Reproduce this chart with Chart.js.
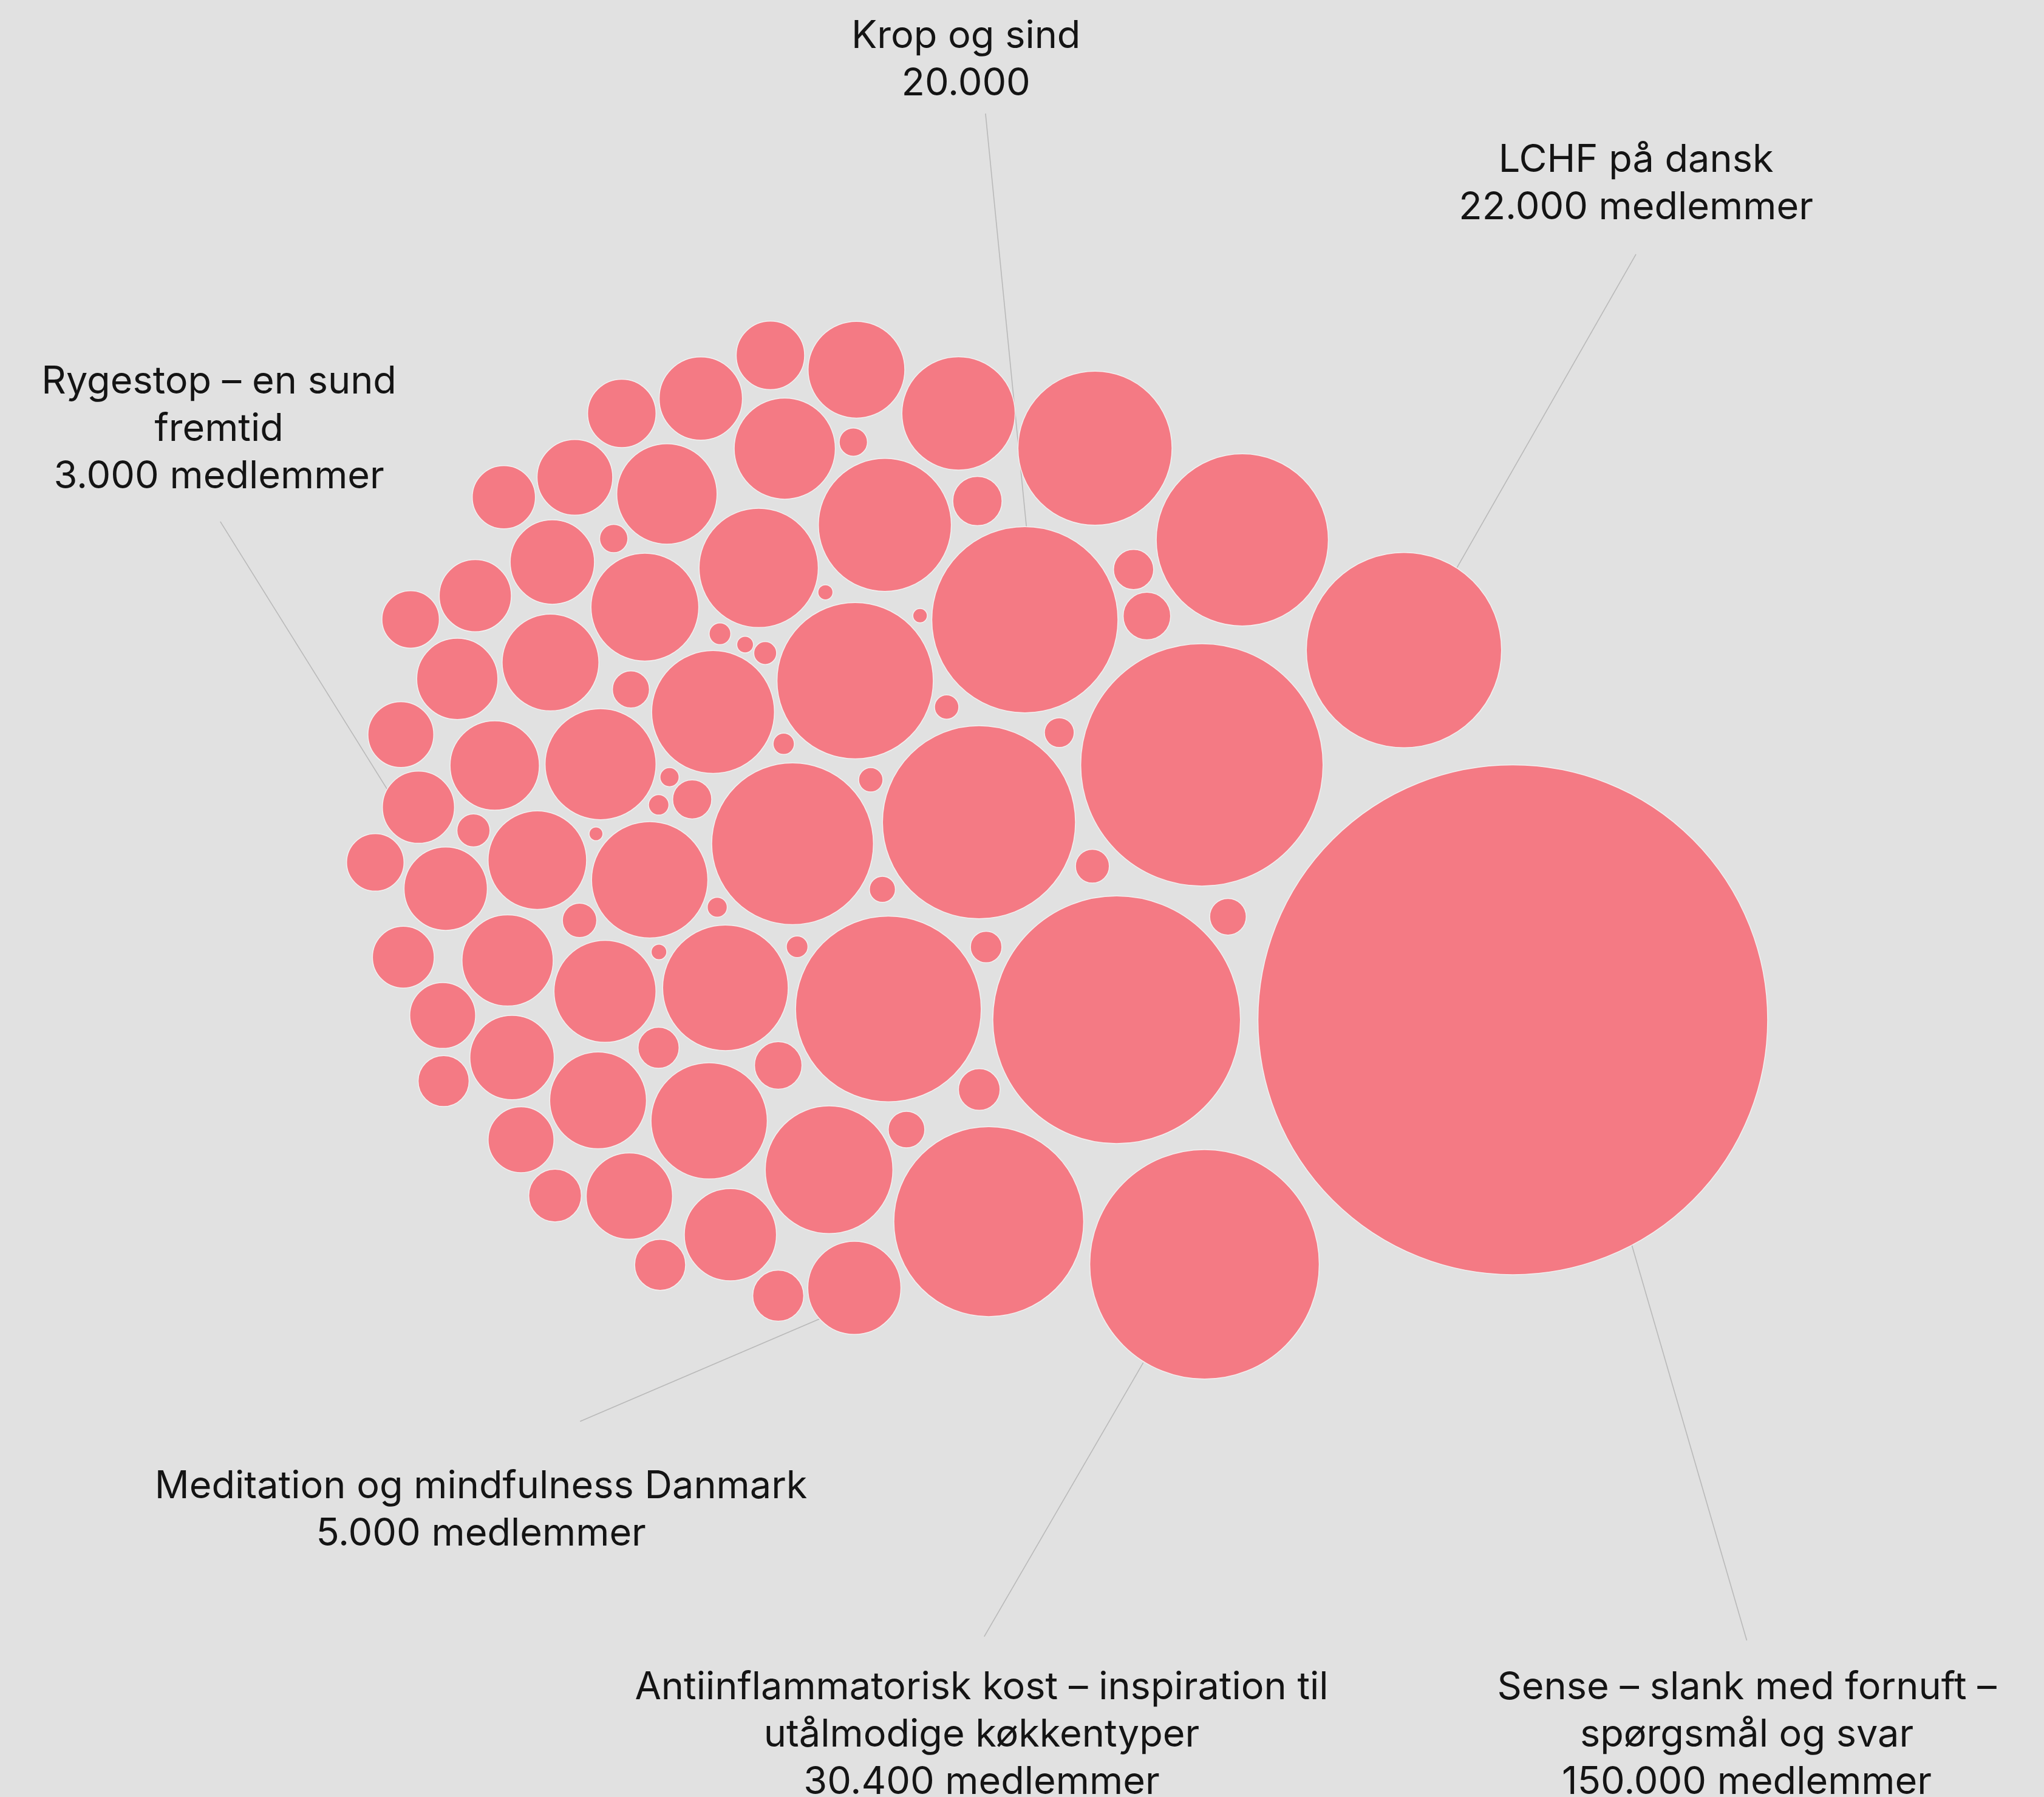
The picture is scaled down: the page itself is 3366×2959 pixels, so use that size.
<!DOCTYPE html>
<html>
<head>
<meta charset="utf-8">
<script src="https://cdn.jsdelivr.net/npm/chart.js@4.4.1/dist/chart.umd.min.js"></script>
<style>
  html, body { margin: 0; padding: 0; background: #e1e1e1; }
  #wrap { width: 3366px; height: 2959px; position: relative; }
</style>
</head>
<body>
<div id="wrap"><canvas id="grupper"></canvas></div>
<script>

// bubble centres in layout units (the packed layout), and group sizes in members
var bubbleX = [1160.5, 924, 1077, 786.2, 655.4, 321, 856.6, 922, 953, 840,
  751, 681.5, 758.5, 608, 656, 678.8, 735.3, 636, 556.5, 544,
  547, 582, 602, 657, 591, 537.6, 477, 511.6, 441, 386.5,
  423.7, 494.7, 364.6, 315, 422.3, 350.8, 307.5, 460.7, 379.5, 287.9,
  412.2, 341.9, 498.4, 389.4, 309.4, 464.1, 339.6, 392.8, 340.3, 458.8,
  399.7, 425.8, 482.8, 560.3, 506.4, 597, 654.6, 749.8, 869.6, 879.8,
  812.6, 838, 942, 756.5, 751.2, 695.4, 597, 505.2, 676.9, 668,
  726.2, 705.8, 633.2, 601.2, 587, 571.6, 552.3, 470.8, 484, 513.6,
  505.3, 531, 457.2, 363.2, 444.6, 550.2, 611.5, 505.5];
var bubbleY = [782, 969.5, 498.5, 475.2, 987.6, 619, 782, 586.5, 414, 343.7,
  630.5, 773.7, 936.8, 647, 522, 402.5, 317, 897, 757.5, 859.5,
  546, 435.5, 344, 283.5, 272.5, 305.6, 317, 378.8, 366, 381.3,
  431, 465.6, 456.8, 475, 508, 520.6, 563.3, 586, 587, 661.3,
  659.6, 681.5, 674.7, 736.5, 734, 760.2, 778.7, 811, 829, 843.8,
  874, 916.8, 917.2, 946.8, 969.9, 993.6, 339, 384.2, 436.7, 472.4,
  561.8, 664.2, 703, 726.2, 835.5, 866.2, 817, 803.5, 682, 598,
  542.2, 472.1, 454.2, 570.4, 500.8, 494.3, 486, 413, 528.7, 596,
  617.2, 613, 639.4, 636.8, 705.8, 695.7, 726, 730];
var members = [150000, 30400, 22000, 20000, 5000, 3000, 35400, 33900, 17100, 13700,
  21500, 19900, 20800, 15100, 14100, 10200, 7400, 9400, 9100, 7800,
  8700, 8200, 5900, 5400, 2700, 4000, 2700, 5800, 3300, 2300,
  4100, 6700, 3000, 1900, 5400, 3800, 2500, 7100, 4600, 1900,
  5600, 4000, 7800, 4800, 2200, 6000, 2500, 4100, 1500, 5400,
  2500, 1600, 4300, 4900, 1500, 1500, 460, 1400, 930, 1300,
  510, 660, 770, 570, 1000, 770, 1300, 970, 390, 340,
  340, 120, 130, 260, 300, 160, 270, 460, 790, 210,
  240, 880, 110, 630, 680, 230, 270, 140];

// named groups and their label lines
var namedLines = [
  ['Krop og sind', '20.000'],
  ['LCHF på dansk', '22.000 medlemmer'],
  ['Rygestop – en sund', 'fremtid', '3.000 medlemmer'],
  ['Meditation og mindfulness Danmark', '5.000 medlemmer'],
  ['Antiinflammatorisk kost – inspiration til', 'utålmodige køkkentyper', '30.400 medlemmer'],
  ['Sense – slank med fornuft –', 'spørgsmål og svar', '150.000 medlemmer']
];

// label placement (layout units): text centre x, first baseline y, leader from/to
var labelPos = [
  { x: 741, y: 37, from: [756, 87], to: [788, 410] },
  { x: 1255, y: 132, from: [1255, 195], to: [1115, 440] },
  { x: 168, y: 302, from: [169, 400], to: [300, 610] },
  { x: 369, y: 1149, from: [445, 1090], to: [632, 1010] },
  { x: 753, y: 1303, from: [755, 1255], to: [877, 1045] },
  { x: 1340, y: 1303, from: [1340, 1258], to: [1251, 952] }
];

var sizeK = 0.5048; // radius (layout units) per sqrt(member)

var callouts = {
  id: 'callouts',
  beforeDraw: function (chart) {
    var c = chart.ctx;
    c.save();
    c.fillStyle = '#e1e1e1';
    c.fillRect(0, 0, chart.width, chart.height);
    c.restore();
  },
  beforeDatasetsDraw: function (chart) {
    var c = chart.ctx, sx = chart.scales.x, sy = chart.scales.y;
    c.save();
    c.strokeStyle = '#b9b9b9';
    c.lineWidth = 1.6;
    labelPos.forEach(function (p) {
      c.beginPath();
      c.moveTo(sx.getPixelForValue(p.from[0]), sy.getPixelForValue(p.from[1]));
      c.lineTo(sx.getPixelForValue(p.to[0]), sy.getPixelForValue(p.to[1]));
      c.stroke();
    });
    c.restore();
  },
  afterDatasetsDraw: function (chart) {
    var c = chart.ctx, sx = chart.scales.x, sy = chart.scales.y;
    var unit = sx.getPixelForValue(1) - sx.getPixelForValue(0);
    c.save();
    c.fillStyle = '#141414';
    c.font = Math.round(29.4 * unit) + 'px Inter, "DejaVu Sans", sans-serif';
    c.textAlign = 'center';
    c.textBaseline = 'alphabetic';
    labelPos.forEach(function (p, i) {
      namedLines[i].forEach(function (t, j) {
        c.fillText(t, sx.getPixelForValue(p.x), sy.getPixelForValue(p.y + j * 36.3));
      });
    });
    c.restore();
  }
};

var data = {
  datasets: [{
    label: 'Facebook-grupper',
    data: [],
    backgroundColor: '#f47a84',
    borderColor: 'rgba(245,245,245,0.9)',
    borderWidth: 1.5
  }]
};

var options = {
  responsive: true,
  maintainAspectRatio: false,
  animation: false,
  events: [],
  layout: { padding: 0, autoPadding: false },
  plugins: {
    legend: { display: false },
    tooltip: { enabled: false }
  },
  scales: {
    x: { type: 'linear', min: 0, max: 1568, display: false },
    y: { type: 'linear', min: 0, max: 1378, reverse: true, display: false }
  }
};

var ctx = document.getElementById('grupper').getContext('2d');
var bubbleChart = new Chart(ctx, {
  type: 'bubble',
  data: data,
  options: options,
  plugins: [callouts]
});

// bubble radius is in pixels, so take it from the laid-out x scale (area ~ members)
var sx = bubbleChart.scales.x;
var unit = sx.getPixelForValue(1) - sx.getPixelForValue(0);
bubbleChart.data.datasets[0].data = bubbleX.map(function (x, i) {
  return { x: x, y: bubbleY[i], r: sizeK * Math.sqrt(members[i]) * unit };
});
bubbleChart.update();
</script>
</body>
</html>
